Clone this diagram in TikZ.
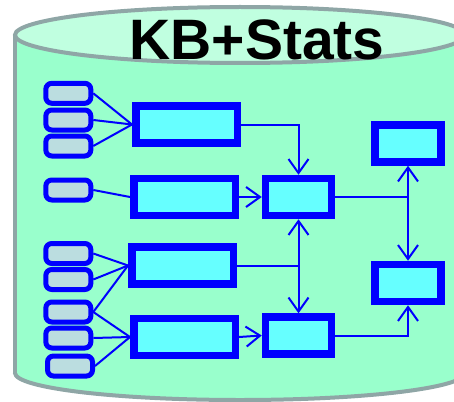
\documentclass[tikz,border=0pt]{standalone}
\usepackage{fontspec}
\setmainfont{Liberation Sans}
\usetikzlibrary{arrows.meta}
\definecolor{bodyfill}{HTML}{99FFCC}
\definecolor{topfill}{HTML}{C0FFE0}
\definecolor{rimgray}{HTML}{8FA6A6}
\definecolor{srcfill}{HTML}{BBDDE0}
\definecolor{boxfill}{HTML}{66FFFF}
\definecolor{edgeblue}{HTML}{0000FF}
\tikzset{
  srcbox/.style={draw=edgeblue, fill=srcfill, line width=5pt, rounded corners=6pt,
    minimum width=45pt, minimum height=20pt, inner sep=0pt},
  procbox/.style={draw=edgeblue, fill=boxfill, line width=7.5pt,
    minimum width=101.5pt, minimum height=37pt, inner sep=0pt},
  smallbox/.style={draw=edgeblue, fill=boxfill, line width=7.5pt,
    minimum width=66pt, minimum height=37pt, inner sep=0pt},
  link/.style={draw=edgeblue, line width=2pt},
  arr/.style={link, -{Straight Barb[length=14pt,width=20pt]}},
}
\begin{document}
\begin{tikzpicture}[x=1pt,y=-1pt]
\useasboundingbox (0,0) rectangle (454,401);
\clip (0,0) rectangle (454,401);

% cylinder body
\fill[bodyfill] (15,35) rectangle (465,373);
\fill[bodyfill] (240,373) ellipse [x radius=225, y radius=27];
\draw[rimgray, line width=4pt] (15,35) -- (15,373);
\draw[rimgray, line width=4pt] (465,35) -- (465,373);
\begin{scope}
  \clip (0,373) rectangle (480,410);
  \draw[rimgray, line width=4pt] (240,373) ellipse [x radius=225, y radius=27];
\end{scope}
% cylinder lid
\draw[rimgray, fill=topfill, line width=4pt] (240,35) ellipse [x radius=225, y radius=28];
\node[anchor=base, inner sep=0pt, font=\bfseries\fontsize{57}{57}\selectfont] (title) at (257,60) {KB+Stats};

% source records
\node[srcbox] (s1) at (68.3,93.3) {};
\node[srcbox] (s2) at (68.3,120) {};
\node[srcbox] (s3) at (68.3,146) {};
\node[srcbox] (s4) at (68.3,190) {};
\node[srcbox] (s5) at (68.3,253.5) {};
\node[srcbox] (s6) at (68.3,279.5) {};
\node[srcbox] (s7) at (68.3,312) {};
\node[srcbox] (s8) at (68.3,338) {};
\node[srcbox] (s9) at (70,366) {};

% processing stages
\node[procbox] (b1) at (186.5,124.5) {};
\node[procbox] (b2) at (184.5,197) {};
\node[procbox] (b3) at (182.5,265.5) {};
\node[procbox] (b4) at (184.5,337) {};
\node[smallbox] (c1) at (298.5,197) {};
\node[smallbox] (c2) at (298.5,335.5) {};
\node[smallbox] (r1) at (408,143.5) {};
\node[smallbox] (r2) at (408,283) {};

% sources feeding stages
\foreach \s in {s1,s2,s3} \draw[link] (\s.east) -- (b1.west);
\draw[link] (s4.east) -- (b2.west);
\foreach \s in {s5,s6,s7} \draw[link] (\s.east) -- (b3.west);
\foreach \s in {s7,s8,s9} \draw[link] (\s.east) -- (b4.west);

% stage flow
\draw[arr] (b1.east) -| (c1.north);
\draw[arr] (b2.east) -- (c1.west);
\coordinate (j1) at (c1 |- b3.east);
\draw[link] (b3.east) -- (j1);
\draw[arr] (j1) -- (c1.south);
\draw[arr] (j1) -- (c2.north);
\draw[arr] (b4.east) -- (c2.west);
\coordinate (j2) at (r1 |- c1.east);
\draw[link] (c1.east) -- (j2);
\draw[arr] (j2) -- (r1.south);
\draw[arr] (j2) -- (r2.north);
\draw[arr] (c2.east) -| (r2.south);
\end{tikzpicture}
\end{document}
